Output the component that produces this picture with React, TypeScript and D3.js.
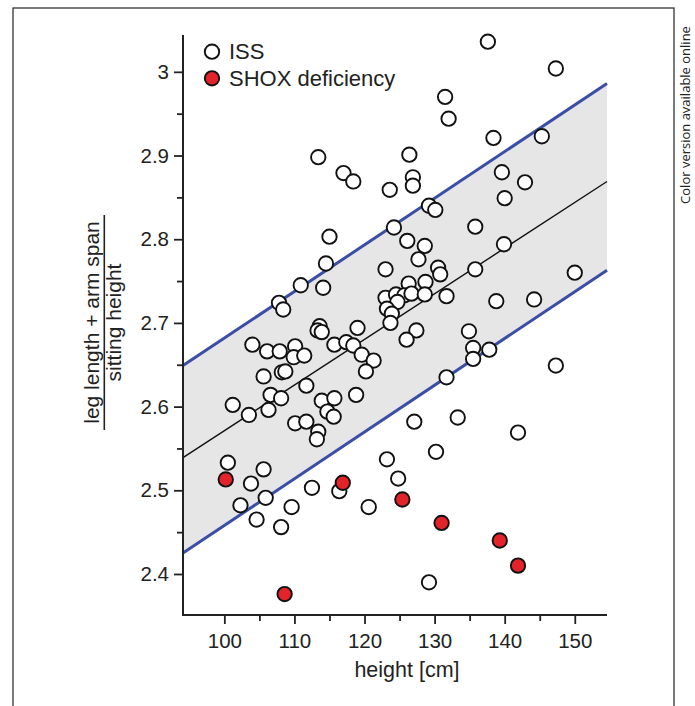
import React, { useEffect, useRef } from 'react';
import * as d3 from 'd3';

// ISS children: [height cm, (leg length + arm span) / sitting height]
const issPoints: [number, number][] = [
  [137.6, 3.036], [147.3, 3.004], [131.5, 2.970], [132.0, 2.944], [138.4, 2.921],
  [145.3, 2.923], [126.4, 2.901], [113.4, 2.898], [117.0, 2.879], [118.4, 2.869],
  [126.9, 2.874], [126.9, 2.864], [123.6, 2.859], [139.6, 2.880], [142.9, 2.868],
  [140.0, 2.849], [129.2, 2.840], [130.1, 2.835], [135.8, 2.815], [124.2, 2.814],
  [115.0, 2.803], [126.1, 2.798], [128.6, 2.792], [139.9, 2.794], [127.7, 2.776],
  [114.5, 2.771], [123.0, 2.764], [130.5, 2.766], [130.8, 2.758], [135.8, 2.764],
  [150.0, 2.760], [110.9, 2.745], [114.1, 2.742], [126.3, 2.747], [128.7, 2.749],
  [107.8, 2.724], [108.4, 2.716], [123.0, 2.730], [124.5, 2.734], [125.7, 2.733],
  [126.7, 2.735], [124.7, 2.725], [128.6, 2.734], [131.7, 2.732], [138.8, 2.726],
  [144.2, 2.728], [123.2, 2.717], [123.9, 2.711], [123.7, 2.700], [113.6, 2.696],
  [113.3, 2.691], [113.9, 2.689], [119.0, 2.694], [127.4, 2.691], [126.0, 2.680],
  [134.9, 2.690], [104.0, 2.674], [106.1, 2.666], [107.9, 2.666], [110.1, 2.672],
  [109.9, 2.659], [111.4, 2.661], [115.7, 2.674], [117.4, 2.677], [118.4, 2.673],
  [119.6, 2.662], [121.3, 2.655], [120.2, 2.642], [135.5, 2.670], [135.5, 2.657],
  [137.8, 2.668], [147.3, 2.649], [131.7, 2.635], [105.6, 2.636], [108.2, 2.641],
  [108.7, 2.642], [111.7, 2.625], [106.6, 2.614], [108.1, 2.610], [106.3, 2.596],
  [101.2, 2.602], [103.5, 2.590], [113.9, 2.607], [115.7, 2.610], [118.8, 2.614],
  [114.7, 2.594], [115.6, 2.588], [110.1, 2.580], [111.7, 2.582], [113.4, 2.570],
  [113.2, 2.561], [127.1, 2.582], [133.3, 2.587], [141.9, 2.569], [100.5, 2.533],
  [105.6, 2.525], [103.8, 2.508], [102.3, 2.482], [105.9, 2.491], [104.6, 2.465],
  [108.1, 2.456], [109.6, 2.480], [112.5, 2.503], [116.4, 2.499], [120.6, 2.480],
  [123.2, 2.537], [130.2, 2.546], [124.8, 2.514], [129.2, 2.390]
];

// SHOX deficiency
const shoxPoints: [number, number][] = [
  [100.2, 2.513], [116.9, 2.509], [108.6, 2.376], [125.4, 2.489],
  [131.0, 2.461], [139.3, 2.440], [141.9, 2.410]
];

// regression line and its band, endpoints at the x-axis limits
const meanLine: [number, number][] = [[94.1, 2.539], [154.6, 2.869]];
const upperLine: [number, number][] = [[94.1, 2.649], [154.6, 2.986]];
const lowerLine: [number, number][] = [[94.1, 2.425], [154.6, 2.763]];

const xTicks = [100, 110, 120, 130, 140, 150];
const xMinorTicks = [105, 115, 125, 135, 145];
const yTicks = [2.4, 2.5, 2.6, 2.7, 2.8, 2.9, 3.0];
const yMinorTicks = [2.45, 2.55, 2.65, 2.75, 2.85, 2.95];

const legendItems = [
  { label: 'ISS', fill: '#ffffff' },
  { label: 'SHOX deficiency', fill: '#e3232a' }
];

const App = () => {
  const ref = useRef<SVGSVGElement>(null);

  useEffect(() => {
    if (ref.current) createChart(ref.current);
  }, []);

  return (
    <svg
      ref={ref}
      width={695}
      height={706}
      style={{ position: 'absolute', left: 0, top: 0, background: '#fff' }}
    />
  );
};

function createChart(node: SVGSVGElement) {
  const svg = d3.select(node);
  svg.selectAll('*').remove();

  const font = 'Arial, "Liberation Sans", sans-serif';
  const left = 183, right = 607, top = 35, bottom = 615;

  const x = d3.scaleLinear().domain([94.1, 154.6]).range([left, right]);
  const y = d3.scaleLinear().domain([2.351, 3.044]).range([bottom, top]);

  // outer frame
  svg.append('rect')
    .attr('x', 13).attr('y', 8)
    .attr('width', 661).attr('height', 710)
    .attr('fill', 'none')
    .attr('stroke', '#333')
    .attr('stroke-width', 1.3);

  svg.append('text')
    .attr('transform', 'translate(690,115) rotate(-90)')
    .attr('text-anchor', 'middle')
    .style('font-family', '"Open Sans", "Noto Sans", sans-serif')
    .style('font-size', '13px')
    .style('fill', '#222')
    .text('Color version available online');

  // band between upper and lower lines
  const band = d3.area<number>()
    .x((_, i) => x(lowerLine[i][0]))
    .y0((_, i) => y(lowerLine[i][1]))
    .y1((_, i) => y(upperLine[i][1]));
  svg.append('path')
    .attr('d', band([0, 1]))
    .attr('fill', '#e6e6e6');

  const line = d3.line<[number, number]>()
    .x(d => x(d[0]))
    .y(d => y(d[1]));

  [upperLine, lowerLine].forEach(l => {
    svg.append('path')
      .attr('d', line(l))
      .attr('fill', 'none')
      .attr('stroke', '#3a4ea6')
      .attr('stroke-width', 3);
  });

  svg.append('path')
    .attr('d', line(meanLine))
    .attr('fill', 'none')
    .attr('stroke', '#111')
    .attr('stroke-width', 1.4);

  // points
  const drawPoints = (pts: [number, number][], fill: string) => {
    svg.append('g')
      .selectAll('circle')
      .data(pts)
      .enter()
      .append('circle')
      .attr('cx', d => x(d[0]))
      .attr('cy', d => y(d[1]))
      .attr('r', 7.2)
      .attr('fill', fill)
      .attr('stroke', '#111')
      .attr('stroke-width', 1.9);
  };
  drawPoints(issPoints, legendItems[0].fill);
  drawPoints(shoxPoints, legendItems[1].fill);

  // axes
  const xAxis = svg.append('g').attr('transform', `translate(0,${bottom})`);
  xAxis.call(d3.axisBottom(x).tickValues(xTicks).tickSize(9).tickSizeOuter(0).tickPadding(9));
  xAxis.append('g').call(
    d3.axisBottom(x).tickValues(xMinorTicks).tickSize(6).tickSizeOuter(0).tickFormat(() => '')
  ).select('.domain').remove();

  const yAxis = svg.append('g').attr('transform', `translate(${left},0)`);
  yAxis.call(
    d3.axisLeft(y).tickValues(yTicks).tickSize(9).tickSizeOuter(0).tickPadding(5)
      .tickFormat(d => (d === 3 ? '3' : d3.format('.1f')(d as number)))
  );
  yAxis.append('g').call(
    d3.axisLeft(y).tickValues(yMinorTicks).tickSize(6).tickSizeOuter(0).tickFormat(() => '')
  ).select('.domain').remove();

  // axis lines meet at the corner
  xAxis.select('.domain').attr('d', `M${left - 1},0H${right}`);
  yAxis.select('.domain').attr('d', `M0,${top}V${bottom + 1}`);
  svg.selectAll('.domain')
    .attr('stroke', '#222')
    .attr('stroke-width', 2);

  svg.selectAll('.tick line').attr('stroke', '#222').attr('stroke-width', 1.8);
  svg.selectAll('.tick text')
    .style('font-family', font)
    .style('font-size', '20.5px')
    .style('fill', '#222');

  // axis titles
  svg.append('text')
    .attr('x', 407).attr('y', 677)
    .attr('text-anchor', 'middle')
    .style('font-family', font)
    .style('font-size', '21.5px')
    .style('fill', '#222')
    .text('height [cm]');

  const yLabel = svg.append('g').attr('transform', 'translate(104.3,322.5) rotate(-90)');
  yLabel.append('text')
    .attr('x', 0).attr('y', -5.5)
    .attr('text-anchor', 'middle')
    .style('font-family', font)
    .style('font-size', '21px')
    .style('fill', '#222')
    .text('leg length + arm span');
  yLabel.append('line')
    .attr('x1', -107.5).attr('x2', 107.5)
    .attr('y1', 0).attr('y2', 0)
    .attr('stroke', '#222')
    .attr('stroke-width', 1.6);
  yLabel.append('text')
    .attr('x', 0).attr('y', 16.5)
    .attr('text-anchor', 'middle')
    .style('font-family', font)
    .style('font-size', '21px')
    .style('fill', '#222')
    .text('sitting height');

  // legend
  const legend = svg.append('g');
  legendItems.forEach((item, i) => {
    const ly = 51.7 + i * 26.6;
    legend.append('circle')
      .attr('cx', 212).attr('cy', ly)
      .attr('r', 7.2)
      .attr('fill', item.fill)
      .attr('stroke', '#111')
      .attr('stroke-width', 1.9);
    legend.append('text')
      .attr('x', 229).attr('y', ly + 7.5)
      .style('font-family', font)
      .style('font-size', '22px')
      .style('fill', '#222')
      .text(item.label);
  });
}

export default App;
